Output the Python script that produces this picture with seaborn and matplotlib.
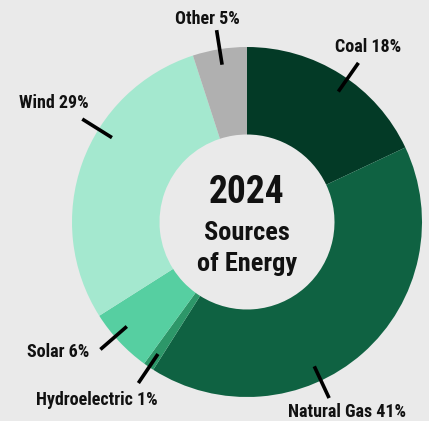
import numpy as np
import matplotlib
matplotlib.use("Agg")
import matplotlib.pyplot as plt
import seaborn as sns

# data
sources = ["Coal", "Natural Gas", "Hydroelectric", "Solar", "Wind", "Other"]
shares = [18, 41, 1, 6, 29, 5]
colors = ["#033a26", "#0f6242", "#2d9769", "#56cfa1", "#a4e8cf", "#b0b0b0"]

# label layout (angle in degrees, radius as fraction of pie radius)
line_angles = [55, -65, 236, 221, 148, 99]
text_angles = [55.2, -62.3, 229.8, 214.4, 148.4, 101.1]
text_radii = [1.215, 1.229, 1.332, 1.311, 1.294, 1.185]

sns.set_style("white")
plt.rcParams["font.family"] = ["Roboto Condensed", "DejaVu Sans"]

bg = "#eaeaea"
fig = plt.figure(figsize=(4.29, 4.21), dpi=100, facecolor=bg)
ax = fig.add_axes([0, 0, 1, 1])
ax.set_facecolor(bg)

ax.pie(shares, colors=colors, startangle=90, counterclock=False,
       radius=1, wedgeprops=dict(width=0.5, linewidth=0))

# leader lines + labels
for name, val, la, ta, tr in zip(sources, shares, line_angles, text_angles, text_radii):
    a = np.deg2rad(la)
    ax.plot([0.91 * np.cos(a), 1.11 * np.cos(a)],
            [0.91 * np.sin(a), 1.11 * np.sin(a)],
            color="black", lw=2.6, solid_capstyle="butt")
    t = np.deg2rad(ta)
    ax.text(tr * np.cos(t), tr * np.sin(t), f"{name} {val}%",
            ha="center", va="center", fontsize=13, fontweight="bold",
            color="#111111")

# centre title
ax.text(0, 0.17, "2024", ha="center", va="center", fontsize=27,
        fontweight="bold", color="#111111")
ax.text(0, -0.06, "Sources", ha="center", va="center", fontsize=19,
        fontweight="bold", color="#111111")
ax.text(0, -0.24, "of Energy", ha="center", va="center", fontsize=19,
        fontweight="bold", color="#111111")

ax.set_xlim(-247 / 175, 182 / 175)
ax.set_ylim(-199 / 175, 222 / 175)
ax.set_aspect("equal")
ax.axis("off")

fig.savefig("out.png", dpi=100, facecolor=bg)
